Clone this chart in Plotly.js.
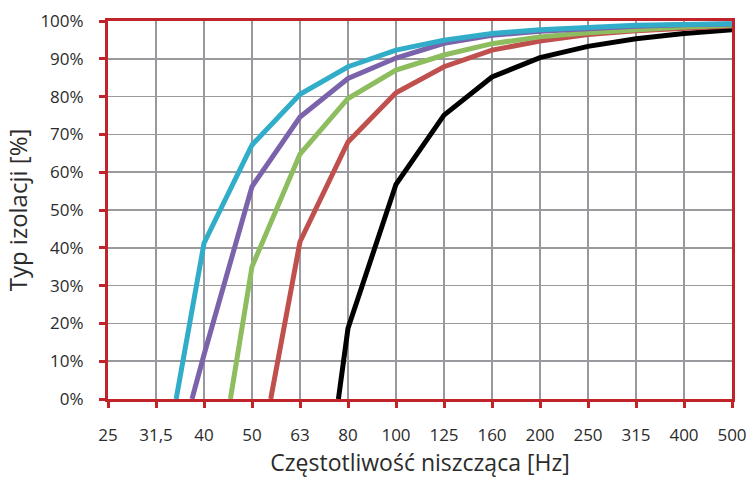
<!DOCTYPE html>
<html><head><meta charset="utf-8">
<script src="https://cdn.plot.ly/plotly-3.0.1.min.js"></script>
<style>html,body{margin:0;padding:0;background:#fff}#c{width:752px;height:480px}</style>
</head><body><div id="c"></div>
<script>
// Frequency categories (tick labels)
const freqLabels = ['25','31,5','40','50','63','80','100','125','160','200','250','315','400','500'];
// Each series: position (category index, fractional where curve starts at 0%) and values in %
const cyanX   = [1.42, 2, 3, 4, 5, 6, 7, 8, 9, 10, 11, 12, 13];
const cyanY   = [0, 41.2, 67.2, 80.6, 87.9, 92.3, 94.9, 96.7, 97.7, 98.4, 98.9, 99.1, 99.3];
const purpleX = [1.75, 2, 3, 4, 5, 6, 7, 8, 9, 10, 11, 12, 13];
const purpleY = [0, 11.7, 56.2, 74.6, 84.8, 90.2, 94.1, 96.2, 97.3, 98.0, 98.6, 99.0, 99.2];
const greenX  = [2.55, 3, 4, 5, 6, 7, 8, 9, 10, 11, 12, 13];
const greenY  = [0, 35.0, 64.8, 79.5, 87.0, 91.0, 94.0, 95.8, 96.9, 97.7, 98.4, 98.9];
const redX    = [3.39, 4, 5, 6, 7, 8, 9, 10, 11, 12, 13];
const redY    = [0, 41.6, 68.0, 81.0, 87.9, 92.3, 94.7, 96.4, 97.4, 98.2, 98.7];
const blackX  = [4.8, 5, 6, 7, 8, 9, 10, 11, 12, 13];
const blackY  = [0, 18.7, 56.8, 75.1, 85.2, 90.3, 93.3, 95.3, 96.7, 97.7];

const lw = 5;
const mk = (x, y, color) => ({x, y, type:'scatter', mode:'lines', line:{color, width:lw}, hoverinfo:'skip'});
const data = [
  mk(blackX, blackY, '#000000'),
  mk(redX, redY, '#C0504D'),
  mk(greenX, greenY, '#8DBD5E'),
  mk(purpleX, purpleY, '#7B63AC'),
  mk(cyanX, cyanY, '#31ADC9')
];
const red = '#C1232B';
const txt = '#2b2b2b';
const font = {family:'"Open Sans", "Liberation Sans", sans-serif', size:17, color:txt};
const layout = {
  width:752, height:480,
  margin:{l:107.5, r:20, t:21, b:81},
  showlegend:false,
  paper_bgcolor:'#fff', plot_bgcolor:'#fff',
  font,
  xaxis:{
    range:[0,13], tickvals:freqLabels.map((_, i) => i), ticktext:freqLabels,
    showgrid:true, gridcolor:'#9A9A9E', gridwidth:1.5,
    showline:true, linecolor:red, linewidth:3, mirror:true,
    ticks:'outside', ticklen:6, tickwidth:3, tickcolor:red,
    zeroline:false, tickfont:{size:17, color:txt}, ticklabelstandoff:13,
    automargin:false,
    title:{text:'Częstotliwość niszcząca [Hz]', font:{size:23, color:txt}, standoff:3}
  },
  yaxis:{
    range:[0,100], dtick:10, ticksuffix:'%',
    showgrid:true, gridcolor:'#9A9A9E', gridwidth:1.5,
    showline:true, linecolor:red, linewidth:3, mirror:true,
    ticks:'outside', ticklen:6, tickwidth:3, tickcolor:red,
    zeroline:false, tickfont:{size:17, color:txt}, ticklabelstandoff:12,
    automargin:false,
    title:{text:'Typ izolacji [%]', font:{size:24, color:txt}, standoff:6}
  }
};
Plotly.newPlot('c', data, layout, {displayModeBar:false, staticPlot:true});
</script></body></html>
